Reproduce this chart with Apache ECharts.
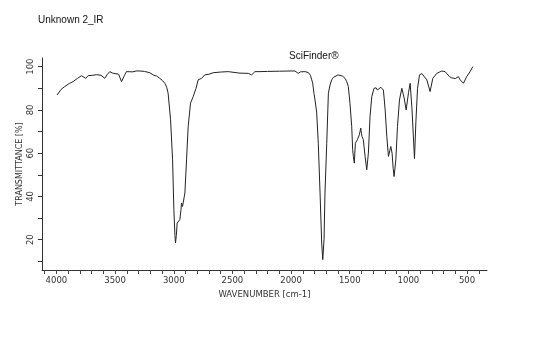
<!DOCTYPE html>
<html>
<head>
<meta charset="utf-8">
<script src="https://cdn.jsdelivr.net/npm/echarts@6/dist/echarts.min.js"></script>
<style>
  html, body { margin: 0; padding: 0; background: #fff; }
  #chart { width: 560px; height: 357px; }
</style>
</head>
<body>
<div id="chart"></div>
<script>
var wavenumbers = [3995, 3960, 3929, 3890, 3858, 3820, 3787, 3750, 3730, 3690, 3659, 3620, 3588, 3565, 3545, 3520, 3503, 3470, 3445, 3420, 3403, 3350, 3320, 3289, 3250, 3204, 3170, 3147, 3119, 3095, 3076, 3060, 3048, 3027, 3010, 2999, 2990, 2985, 2978, 2971, 2960, 2948, 2938, 2934, 2925, 2918, 2905, 2891, 2877, 2857, 2834, 2810, 2792, 2775, 2763, 2750, 2735, 2700, 2664, 2600, 2536, 2436, 2365, 2336, 2320, 2308, 2265, 2200, 2100, 2000, 1967, 1950, 1939, 1920, 1882, 1853, 1835, 1824, 1816, 1805, 1796, 1782, 1768, 1753, 1739, 1730, 1719, 1711, 1696, 1682, 1668, 1654, 1640, 1626, 1600, 1583, 1560, 1540, 1525, 1512, 1498, 1483, 1475, 1469, 1461, 1452, 1443, 1435, 1418, 1406, 1400, 1395, 1384, 1369, 1355, 1341, 1327, 1312, 1293, 1275, 1264, 1250, 1235, 1222, 1213, 1198, 1184, 1170, 1162, 1150, 1139, 1130, 1122, 1107, 1093, 1076, 1056, 1036, 1019, 999, 985, 970, 957, 948, 936, 922, 905, 885, 871, 843, 815, 792, 758, 735, 715, 687, 650, 630, 616, 600, 588, 574, 559, 545, 531, 503, 474, 451];
var transmittance = [86.9, 89.5, 90.8, 92.2, 93.1, 94.6, 95.8, 94.6, 95.8, 96.0, 96.3, 96.0, 94.6, 96.5, 97.7, 97.0, 97.4, 96.5, 93.1, 96.0, 97.7, 97.6, 98.0, 98.0, 97.8, 97.2, 96.0, 95.7, 94.6, 93.5, 92.3, 90.5, 87.7, 75.4, 56.9, 33.9, 22.0, 18.5, 22.0, 27.7, 28.5, 29.3, 34.0, 37.0, 35.4, 35.5, 41.6, 56.9, 72.3, 83.1, 86.2, 90.0, 93.9, 94.6, 94.6, 95.2, 96.2, 96.5, 97.2, 97.5, 97.7, 97.0, 96.9, 96.2, 96.8, 97.7, 97.7, 97.8, 97.9, 98.0, 98.0, 97.5, 96.9, 97.6, 97.7, 97.3, 96.0, 93.9, 92.5, 87.7, 84.6, 79.0, 64.6, 41.6, 18.5, 10.8, 20.0, 41.6, 64.6, 87.7, 91.5, 93.9, 95.0, 95.7, 96.2, 96.2, 95.6, 94.6, 93.0, 90.8, 83.1, 72.3, 61.6, 58.5, 55.4, 64.6, 65.5, 66.2, 68.5, 71.6, 69.0, 67.7, 66.2, 58.5, 52.3, 60.0, 76.9, 86.2, 90.0, 90.2, 89.2, 89.5, 90.5, 90.2, 89.2, 80.0, 67.7, 58.5, 57.7, 63.1, 60.0, 53.0, 49.2, 56.9, 72.3, 84.6, 90.0, 85.5, 80.0, 88.0, 92.3, 81.0, 67.0, 57.5, 74.6, 90.0, 96.2, 96.8, 96.9, 93.9, 88.5, 94.6, 96.9, 97.5, 98.0, 97.7, 95.4, 94.8, 93.9, 94.5, 94.6, 95.4, 93.9, 94.6, 92.3, 95.4, 97.7, 100.0];

var xLabels = [500, 1000, 1500, 2000, 2500, 3000, 3500, 4000];
var xTicks = [400, 500, 600, 700, 800, 900, 1000, 1100, 1200, 1300, 1400, 1500, 1600, 1700, 1800, 1900, 2000, 2100, 2200, 2300, 2400, 2500, 2600, 2700, 2800, 2900, 3000, 3100, 3200, 3300, 3400, 3500, 3600, 3700, 3800, 3900, 4000, 4100];
var yTicks = [10, 20, 30, 40, 50, 60, 70, 80, 90, 100];
var yLabels = [20, 40, 60, 80, 100];

var chart = echarts.init(document.getElementById('chart'));
var textFont = 'DejaVu Sans';
var axisColor = '#333';

var option = {
    animation: false,
    title: [
        {
            text: 'Unknown 2_IR',
            left: 33,
            top: 10,
            textStyle: { fontFamily: 'Liberation Sans', fontSize: 10, fontWeight: 'normal', color: '#111' }
        },
        {
            text: 'SciFinder®',
            left: 284,
            top: 46,
            textStyle: { fontFamily: 'Liberation Sans', fontSize: 10, fontWeight: 'normal', color: '#111' }
        }
    ],
    grid: { left: 42, right: 73, top: 58, bottom: 87, containLabel: false },
    xAxis: {
        type: 'value',
        inverse: true,
        min: 330,
        max: 4123,
        name: 'WAVENUMBER [cm-1]',
        nameLocation: 'middle',
        nameGap: 18,
        nameTextStyle: { fontFamily: textFont, fontSize: 8.5, color: axisColor },
        splitLine: { show: false },
        axisLine: { lineStyle: { color: axisColor, width: 1 } },
        axisTick: { show: true, customValues: xTicks, length: 4, lineStyle: { color: '#444', width: 1 } },
        axisLabel: {
            customValues: xLabels,
            formatter: function (v) { return String(v); },
            fontFamily: textFont, fontSize: 8.5, color: axisColor, margin: 6
        }
    },
    yAxis: {
        type: 'value',
        min: 6,
        max: 104,
        name: 'TRANSMITTANCE [%]',
        nameLocation: 'middle',
        nameGap: 18,
        nameMoveOverlap: false,
        nameRotate: 90,
        nameTextStyle: { fontFamily: textFont, fontSize: 8, color: axisColor },
        splitLine: { show: false },
        axisLine: { show: true, lineStyle: { color: axisColor, width: 1 } },
        axisTick: { show: true, customValues: yTicks, length: 4, lineStyle: { color: axisColor } },
        axisLabel: { customValues: yLabels, rotate: 90, fontFamily: textFont, fontSize: 8.5, color: axisColor, margin: 7 }
    },
    series: [
        {
            type: 'line',
            data: wavenumbers.map(function (w, i) { return [w, transmittance[i]]; }),
            showSymbol: false,
            smooth: false,
            lineStyle: { color: '#222', width: 1 }
        }
    ]
};
chart.setOption(option);
</script>
</body>
</html>
